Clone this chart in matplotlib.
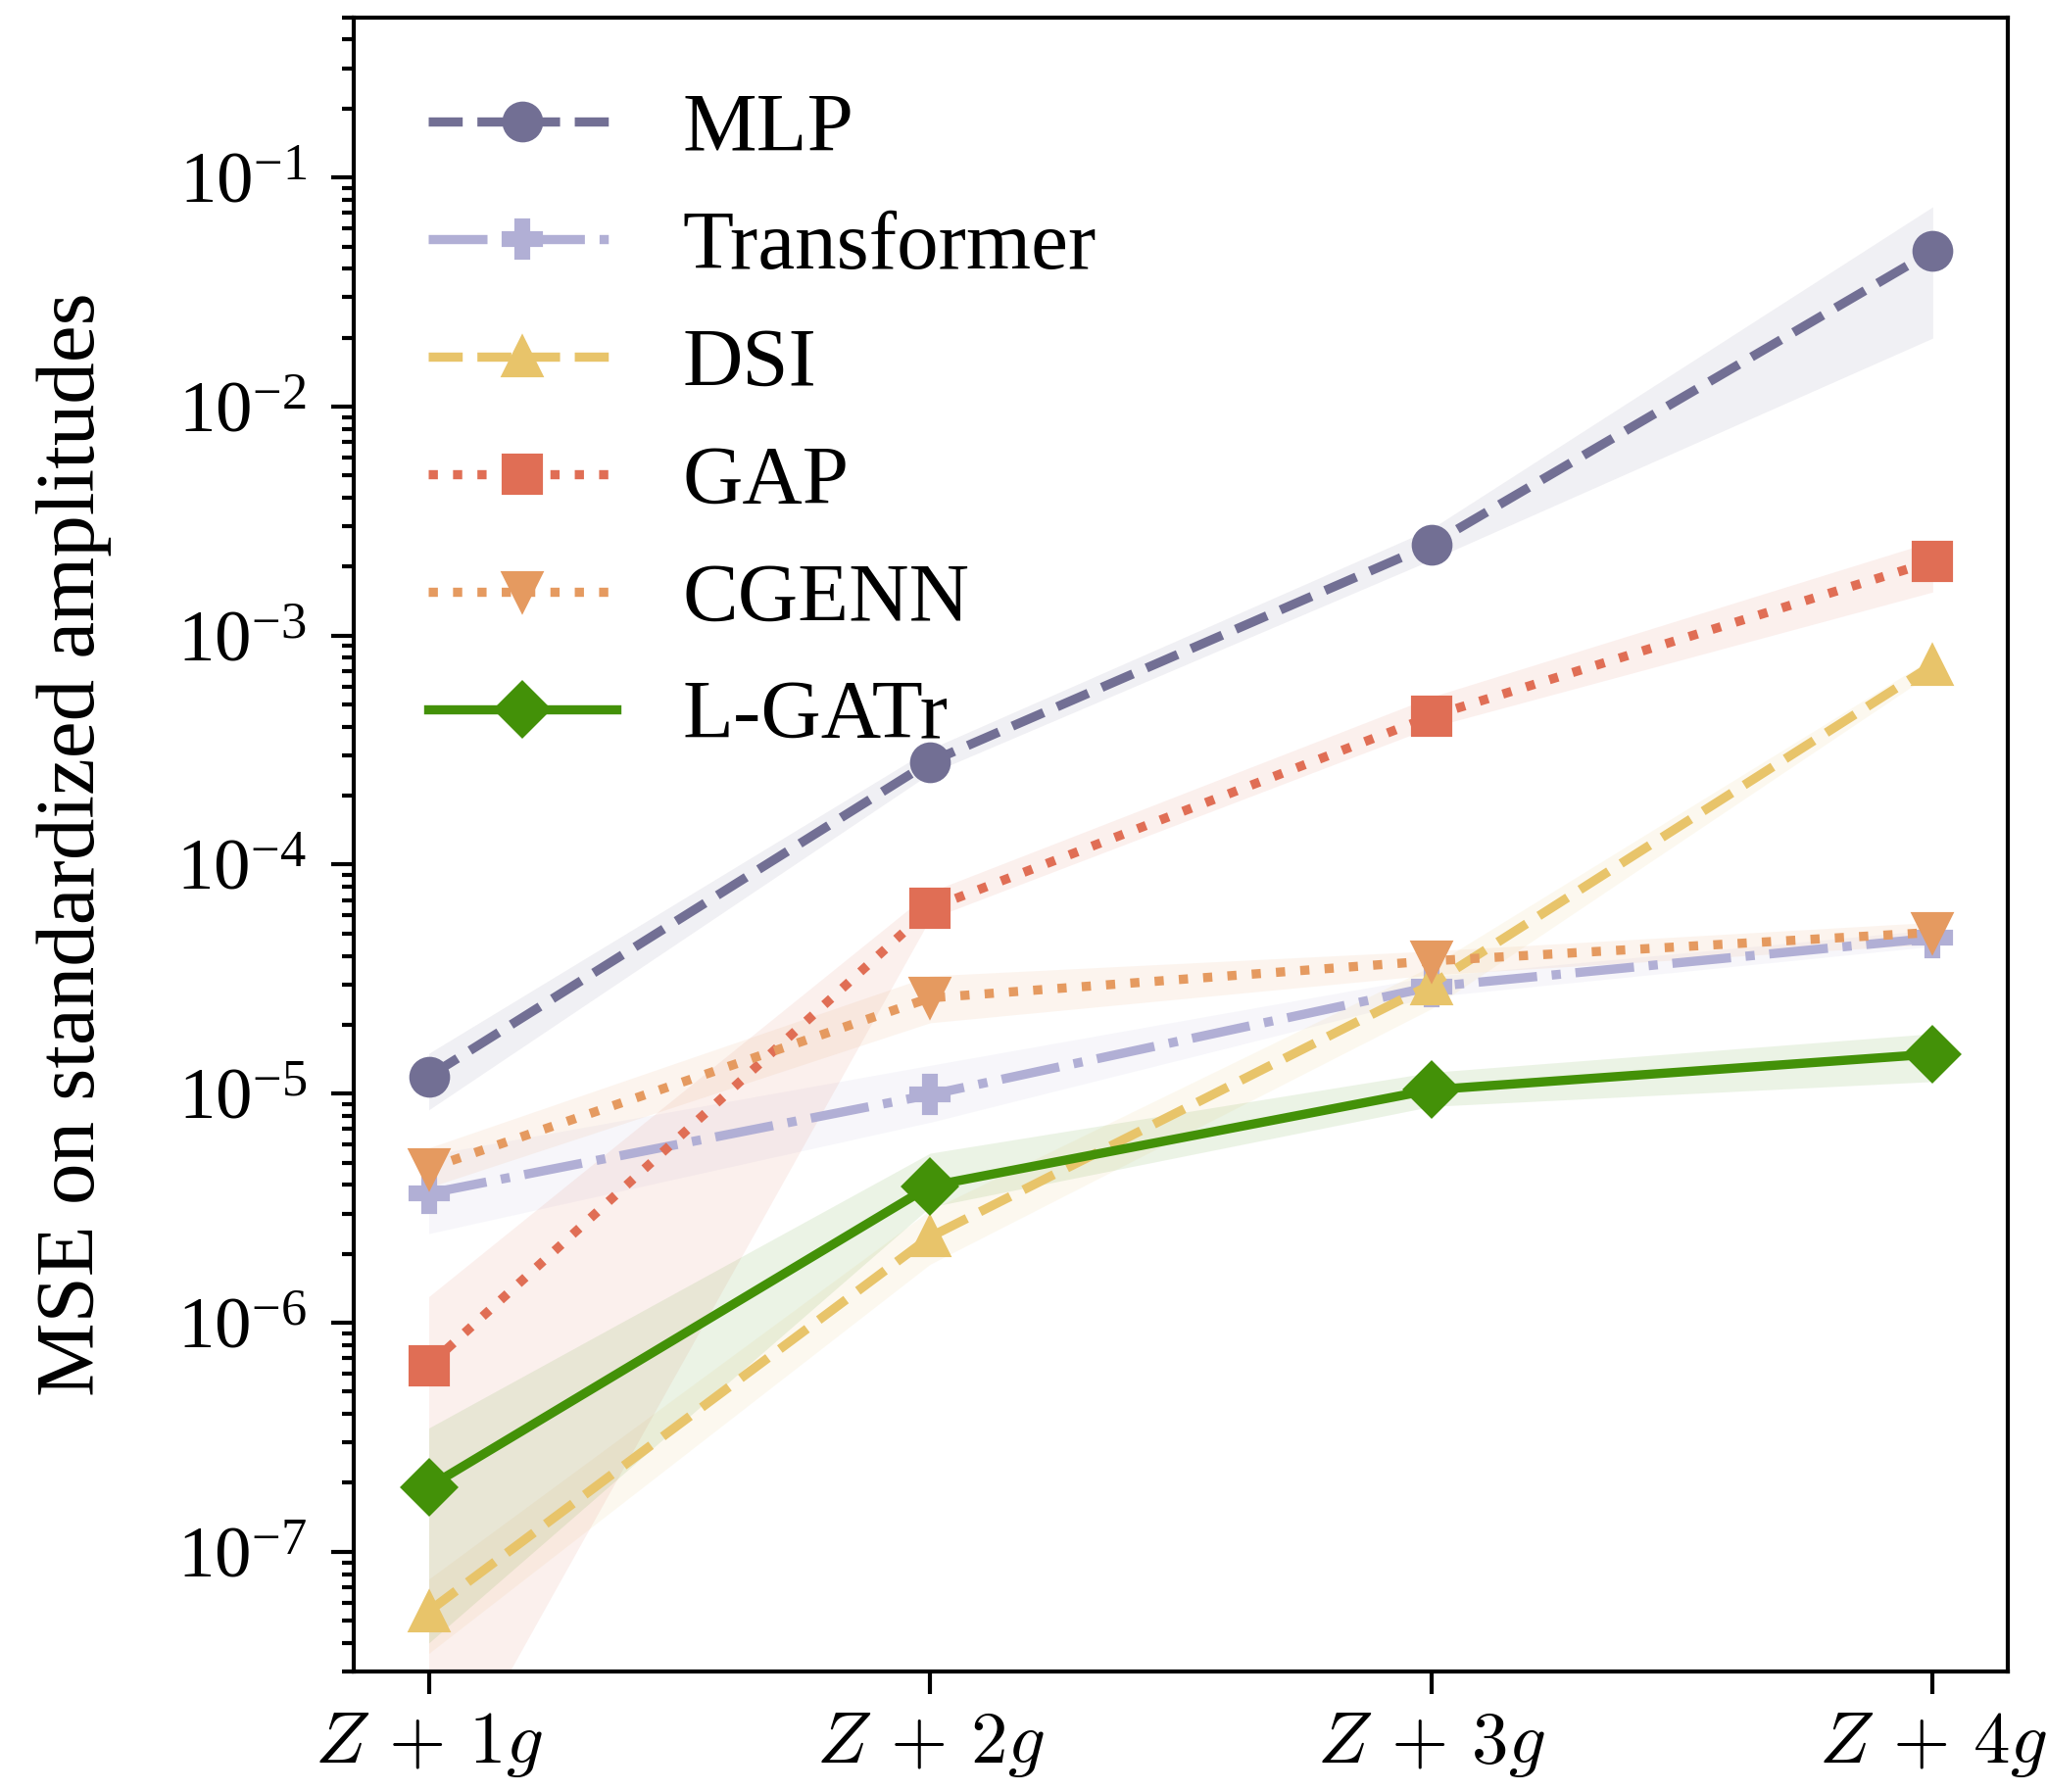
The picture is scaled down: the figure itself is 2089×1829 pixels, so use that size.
import matplotlib
matplotlib.use("Agg")
import matplotlib.pyplot as plt
import numpy as np

plt.rcParams['font.family'] = ['Liberation Serif', 'DejaVu Serif']
plt.rcParams['mathtext.fontset'] = 'cm'

x_labels = [r"$Z\,+\,1g$", r"$Z\,+\,2g$", r"$Z\,+\,3g$", r"$Z\,+\,4g$"]
x = [1, 2, 3, 4]

models = ["MLP", "Transformer", "DSI", "GAP", "CGENN", "L-GATr"]

mlp_mean = [1.19e-5, 2.81e-4, 2.50e-3, 4.78e-2]
mlp_low = [8.5e-6, 2.5e-4, 2.14e-3, 1.99e-2]
mlp_high = [1.5e-5, 3.2e-4, 2.93e-3, 7.45e-2]

tr_mean = [3.67e-6, 9.9e-6, 2.93e-5, 4.78e-5]
tr_low = [2.45e-6, 7.5e-6, 2.65e-5, 4.4e-5]
tr_high = [5.4e-6, 1.33e-5, 3.25e-5, 5.2e-5]

dsi_mean = [5.5e-8, 2.37e-6, 3.0e-5, 7.45e-4]
dsi_low = [3.6e-8, 1.8e-6, 2.35e-5, 6.9e-4]
dsi_high = [7.6e-8, 3.1e-6, 3.6e-5, 8.0e-4]

gap_mean = [6.5e-7, 6.45e-5, 4.45e-4, 2.11e-3]
gap_low = [7e-9, 5.8e-5, 3.98e-4, 1.55e-3]
gap_high = [1.3e-6, 7.6e-5, 5.4e-4, 2.58e-3]

cg_mean = [4.72e-6, 2.62e-5, 3.8e-5, 5.06e-5]
cg_low = [3.9e-6, 2.04e-5, 3.3e-5, 4.5e-5]
cg_high = [5.8e-6, 3.27e-5, 4.2e-5, 5.6e-5]

lg_mean = [1.92e-7, 3.95e-6, 1.04e-5, 1.49e-5]
lg_low = [4.0e-8, 3.2e-6, 8.8e-6, 1.13e-5]
lg_high = [3.47e-7, 5.5e-6, 1.24e-5, 1.83e-5]

means = [mlp_mean, tr_mean, dsi_mean, gap_mean, cg_mean, lg_mean]
lows = [mlp_low, tr_low, dsi_low, gap_low, cg_low, lg_low]
highs = [mlp_high, tr_high, dsi_high, gap_high, cg_high, lg_high]

colors = ["#726f94", "#b1afd5", "#e8c46a", "#e06e55", "#e59a60", "#439108"]
styles = ["--", "-.", "--", ":", ":", "-"]
markers = ["o", "P", "^", "s", "v", "D"]

fig = plt.figure(figsize=(2089 / 300, 1829 / 300), dpi=300)
ax = fig.add_axes([0.1727, 0.0672, 0.9809 - 0.1727, 0.9903 - 0.0672])

for name, m, lo, hi, c, ls, mk in zip(models, means, lows, highs, colors, styles, markers):
    ax.fill_between(x, lo, hi, color=c, alpha=0.1, lw=0)
    ax.plot(x, m, ls=ls, marker=mk, color=c, lw=2.25, ms=9, label=name)

ax.set_yscale("log")
ax.set_ylim(3e-8, 0.5)
ax.set_xticks(x)
ax.set_xticklabels(x_labels)
ax.set_ylabel("MSE on standardized amplitudes", fontsize=20.4)
ax.yaxis.set_label_coords(-0.146, 0.5)
ax.tick_params(axis="both", which="major", length=5.5, width=1.0)
ax.tick_params(axis="x", which="major", labelsize=18, pad=4)
ax.tick_params(axis="y", which="major", labelsize=18, pad=6)
ax.tick_params(axis="both", which="minor", length=3.0, width=1.0)
for s in ax.spines.values():
    s.set_linewidth(1.0)

ax.legend(loc="upper left", frameon=False, fontsize=20.4, handlelength=2.25,
          labelspacing=0.5)

fig.savefig("out.png", dpi=300)
